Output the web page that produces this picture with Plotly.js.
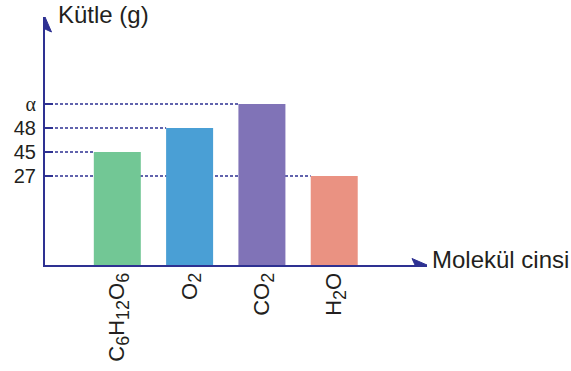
<!DOCTYPE html>
<html>
<head>
<meta charset="utf-8">
<script src="https://cdn.plot.ly/plotly-3.0.1.min.js"></script>
<style>html,body{margin:0;padding:0;background:#fff;}#chart{width:571px;height:371px;}</style>
</head>
<body>
<div id="chart"></div>
<script>
// Molecule categories (x axis)
var molecules = [
  'C<sub><span style="font-size:18px">6</span></sub>H<sub><span style="font-size:18px">12</span></sub>O<sub><span style="font-size:18px">6</span></sub>',
  'O<sub><span style="font-size:18px">2</span></sub>',
  'CO<sub><span style="font-size:18px">2</span></sub>',
  'H<sub><span style="font-size:18px">2</span></sub>O'
];
// Mass labels shown on the y axis for each bar
var massLabels = ['45', '48', '<span style="font-family:Liberation Serif, DejaVu Serif, serif">α</span>', '27'];
// Drawn bar heights (schematic, not to scale)
var barHeights = [113, 137, 161, 89];
var barColors = ['#72c795', '#4a9fd5', '#8073b7', '#ea9282'];

var axisColor = '#2e3192';
var textColor = '#231f20';
var barWidth = 0.65;

var trace = {
  type: 'bar',
  x: molecules,
  y: barHeights,
  width: barWidth,
  marker: {color: barColors, line: {width: 0}},
  hoverinfo: 'skip'
};

var shapes = [];
barHeights.forEach(function (h, i) {
  shapes.push({
    type: 'line', layer: 'below', xref: 'x', yref: 'y',
    x0: -1, x1: i - barWidth / 2, y0: h, y1: h,
    line: {color: axisColor, width: 1.5, dash: '3px,2px'}
  });
  shapes.push({
    type: 'line', layer: 'above', xref: 'x', yref: 'y',
    xsizemode: 'pixel', xanchor: -1,
    x0: -7, x1: 8, y0: h, y1: h,
    line: {color: axisColor, width: 2}
  });
});
// arrowheads
shapes.push({
  type: 'path', xref: 'paper', yref: 'y', xsizemode: 'pixel', ysizemode: 'pixel',
  xanchor: 1, yanchor: 0,
  path: 'M0,0 L-15,6.5 L-12,0 L-15,-6.5 Z',
  fillcolor: axisColor, line: {color: axisColor, width: 1}
});
shapes.push({
  type: 'path', xref: 'x', yref: 'paper', xsizemode: 'pixel', ysizemode: 'pixel',
  xanchor: -1, yanchor: 1,
  path: 'M0,0 L6.5,-15 L0,-12 L-6.5,-15 Z',
  fillcolor: axisColor, line: {color: axisColor, width: 1}
});

var layout = {
  width: 571, height: 371,
  margin: {l: 45, r: 144, t: 17, b: 106, pad: 0},
  paper_bgcolor: '#ffffff', plot_bgcolor: '#ffffff',
  showlegend: false,
  font: {family: 'Liberation Sans, Arial, sans-serif', color: textColor},
  xaxis: {
    type: 'category',
    range: [-1, 4.283],
    showgrid: false, zeroline: false,
    showline: true, linecolor: axisColor, linewidth: 2,
    ticks: '', tickangle: -90,
    tickfont: {size: 22, color: textColor},
    ticklabelstandoff: -3,
    fixedrange: true
  },
  yaxis: {
    range: [0, 248],
    showgrid: false, zeroline: false,
    showline: true, linecolor: axisColor, linewidth: 2,
    ticks: '',
    tickvals: barHeights,
    ticktext: massLabels,
    tickfont: {size: 20, color: textColor},
    ticklabelstandoff: 3,
    fixedrange: true
  },
  shapes: shapes,
  annotations: [
    {text: 'Kütle (g)', xref: 'paper', yref: 'paper', x: 0.03, y: 1.012,
     xanchor: 'left', yanchor: 'middle', showarrow: false,
     font: {size: 24, color: textColor}},
    {text: 'Molekül cinsi', xref: 'paper', yref: 'paper', x: 1.008, y: 0.022,
     xanchor: 'left', yanchor: 'middle', showarrow: false,
     font: {size: 24, color: textColor}}
  ]
};

Plotly.newPlot('chart', [trace], layout, {displayModeBar: false, staticPlot: true});
</script>
</body>
</html>
